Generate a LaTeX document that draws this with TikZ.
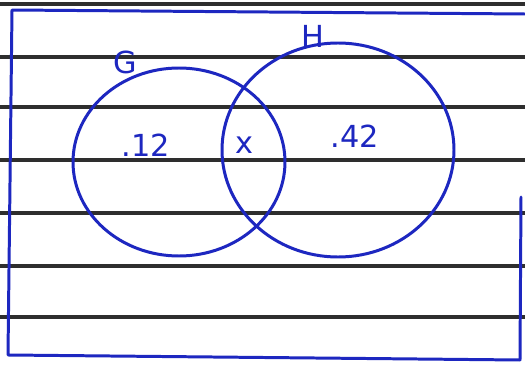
\documentclass[tikz,border=0pt]{standalone}
\usepackage{fontspec}
\setmainfont{DejaVu Sans}
\usetikzlibrary{positioning}
\definecolor{pen}{HTML}{1D27C0}
\definecolor{rule}{HTML}{2E2E2E}
\tikzset{
  ruleline/.style={draw=rule, line width=2.6pt},
  ink/.style={draw=pen, line width=1.7pt, line cap=round, line join=round},
  lbl/.style={font=\LARGE, text=pen, inner sep=1pt}
}
\begin{document}
\begin{tikzpicture}[x=0.02cm,y=-0.02cm]
  \useasboundingbox (0,0) rectangle (525,365);
  \fill[white] (0,0) rectangle (525,365);

  % ruled paper
  \foreach \yy in {4,57,107,160,213,266,317}
    \draw[ruleline] (0,\yy) -- (525,\yy);

  % frame
  \draw[ink] (521,197) -- (520,360);
  \draw[ink] (525,14) -- (12,10) -- (8,355) -- (520,360);

  % sets
  \draw[ink] (179,162) ellipse [x radius=106, y radius=94];
  \draw[ink] (338,150) ellipse [x radius=116, y radius=107];

  \node[lbl] (gname) at (125,62) {G};
  \node[lbl] (hname) at (313,36) {H};
  \node[lbl] (gonly) at (146,145) {.12};
  \node[lbl] (both)  at (244,145) {x};
  \node[lbl] (honly) at (355,136) {.42};
\end{tikzpicture}
\end{document}
